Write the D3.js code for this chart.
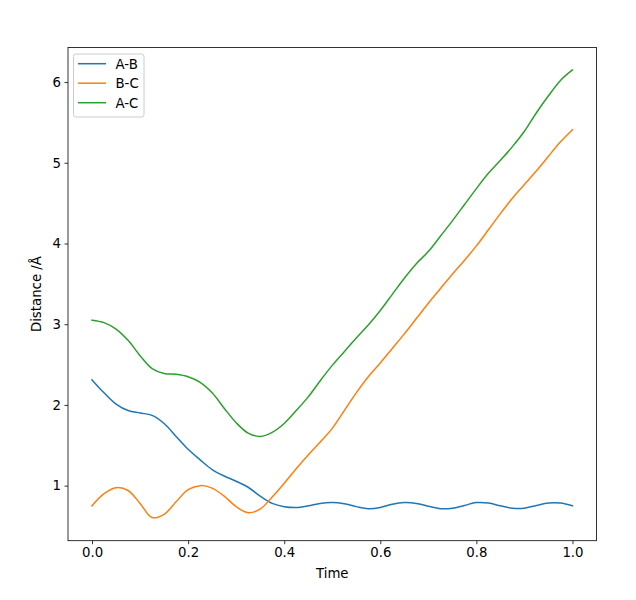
<!DOCTYPE html>
<html>
<head>
<meta charset="utf-8">
<script src="https://cdn.jsdelivr.net/npm/d3@7"></script>
<style>
  html, body { margin: 0; padding: 0; background: #fff; }
  svg text { font-family: "DejaVu Sans", sans-serif; }
</style>
</head>
<body>
<svg id="chart" width="636" height="600"></svg>
<script>
const time = d3.range(41).map(i => +(i * 0.025).toFixed(3));
const seriesNames = ["A-B", "B-C", "A-C"];
const seriesColors = ["#1f77b4", "#ff7f0e", "#2ca02c"];
const abValues = [2.31, 2.15, 2.01, 1.93, 1.90, 1.87, 1.77, 1.61, 1.45, 1.32,
  1.20, 1.12, 1.055, 0.98, 0.87, 0.78, 0.74, 0.73, 0.75, 0.78,
  0.79, 0.775, 0.74, 0.715, 0.73, 0.77, 0.79, 0.78, 0.745, 0.715,
  0.72, 0.755, 0.79, 0.785, 0.75, 0.72, 0.72, 0.755, 0.785, 0.785, 0.75];
const bcValues = [0.75, 0.90, 0.975, 0.94, 0.78, 0.605, 0.645, 0.80, 0.95, 1.0,
  0.97, 0.87, 0.74, 0.665, 0.71, 0.86, 1.03, 1.21, 1.38, 1.54,
  1.71, 1.93, 2.15, 2.35, 2.52, 2.70, 2.88, 3.07, 3.26, 3.44,
  3.62, 3.79, 3.97, 4.17, 4.37, 4.56, 4.73, 4.90, 5.08, 5.26, 5.41];
const acValues = [3.05, 3.02, 2.94, 2.80, 2.61, 2.45, 2.39, 2.38, 2.35, 2.28,
  2.15, 1.96, 1.78, 1.65, 1.61, 1.66, 1.77, 1.93, 2.10, 2.30,
  2.49, 2.66, 2.83, 2.99, 3.17, 3.37, 3.57, 3.75, 3.90, 4.09,
  4.28, 4.48, 4.68, 4.87, 5.03, 5.20, 5.39, 5.62, 5.83, 6.02, 6.15];
const xTicks = [0.0, 0.2, 0.4, 0.6, 0.8, 1.0];
const yTicks = [1, 2, 3, 4, 5, 6];
const xLabel = "Time";
const yLabel = "Distance /Å";

(function () {
  const allSeries = [abValues, bcValues, acValues];
  const svg = d3.select("#chart");
  const mLeft = 68, mRight = 596.5, mTop = 47.5, mBottom = 540.7;

  const xMin = d3.min(time), xMax = d3.max(time);
  const xPad = (xMax - xMin) * 0.05;
  const x = d3.scaleLinear().domain([xMin - xPad, xMax + xPad]).range([mLeft, mRight]);
  const y = d3.scaleLinear().domain([0.318, 6.428]).range([mBottom, mTop]);

  const line = d3.line().x((d, i) => x(time[i])).y(d => y(d)).curve(d3.curveCatmullRom.alpha(0.5));
  allSeries.forEach((vals, k) => {
    svg.append("path").datum(vals)
      .attr("d", line)
      .attr("fill", "none")
      .attr("stroke", seriesColors[k])
      .attr("stroke-width", 1.5)
      .attr("stroke-linejoin", "round")
      .attr("stroke-linecap", "square");
  });

  const xAxis = d3.axisBottom(x).tickValues(xTicks).tickFormat(d3.format(".1f")).tickSize(3.5).tickPadding(3.5);
  const yAxis = d3.axisLeft(y).tickValues(yTicks).tickFormat(d3.format("d")).tickSize(3.5).tickPadding(3.5);

  const gx = svg.append("g").attr("transform", `translate(0,${mBottom})`).call(xAxis);
  const gy = svg.append("g").attr("transform", `translate(${mLeft},0)`).call(yAxis);
  [gx, gy].forEach(g => {
    g.select(".domain").remove();
    g.selectAll(".tick line").attr("stroke", "#000").attr("stroke-width", 0.8);
    g.selectAll(".tick text").attr("font-size", "13.3px").attr("fill", "#000")
      .attr("font-family", "'DejaVu Sans', sans-serif");
  });

  svg.append("rect").attr("x", mLeft).attr("y", mTop)
    .attr("width", mRight - mLeft).attr("height", mBottom - mTop)
    .attr("fill", "none").attr("stroke", "#000").attr("stroke-width", 0.8);

  svg.append("text").attr("x", (mLeft + mRight) / 2).attr("y", 578)
    .attr("text-anchor", "middle").attr("font-size", "13.3px").text(xLabel);
  svg.append("text").attr("transform", `translate(41,${(mTop + mBottom) / 2}) rotate(-90)`)
    .attr("text-anchor", "middle").attr("font-size", "13.3px").text(yLabel);

  const lg = svg.append("g");
  lg.append("rect").attr("x", 73.5).attr("y", 54).attr("width", 70.5).attr("height", 63)
    .attr("rx", 2.5).attr("fill", "#fff").attr("fill-opacity", 0.8)
    .attr("stroke", "#cccccc").attr("stroke-width", 1);
  seriesNames.forEach((name, k) => {
    const yy = 63.7 + k * 19.5;
    lg.append("line").attr("x1", 78).attr("x2", 106).attr("y1", yy).attr("y2", yy)
      .attr("stroke", seriesColors[k]).attr("stroke-width", 1.5);
    lg.append("text").attr("x", 115.5).attr("y", yy + 4.8).attr("font-size", "13.3px").text(name);
  });
})();
</script>
</body>
</html>
